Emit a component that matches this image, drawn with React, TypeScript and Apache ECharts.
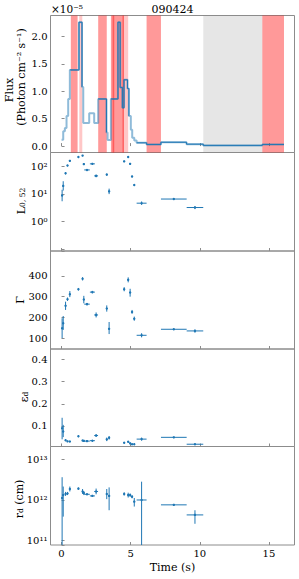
import React, { useEffect, useRef } from 'react';
import * as echarts from 'echarts';

const FONT = '"DejaVu Serif", "Liberation Serif", serif';
const BLUE = '#1f77b4';
const FRAME = '#8c8c8c';

// ---- light curve (flux in units of 1e-5 photon cm^-2 s^-1), step bins ----
const lcEdges = [0.00, 0.12, 0.24, 0.36, 0.48, 0.60, 1.26, 1.48, 1.57, 2.00, 2.36, 2.65, 3.25, 3.33, 3.57, 4.08, 4.24, 4.40, 4.52, 4.77, 4.87, 5.01, 5.11, 5.26, 5.43, 6.15, 7.19, 9.04, 10.25, 14.52, 16.09];
const lcFlux = [0.115, 0.27, 0.33, 0.55, 0.86, 1.39, 2.26, 1.08, 0.42, 0.60, 0.42, 0.86, 0.25, 0.11, 0.86, 2.26, 1.07, 0.70, 1.21, 1.05, 0.55, 0.30, 0.15, 0.10, 0.06, 0.03, 0.07, 0.035, 0.013, 0.03];
const lcDark = [0, 0, 0, 0, 0, 1, 1, 0, 0, 0, 0, 1, 0, 0, 1, 1, 1, 1, 1, 1, 0, 0, 0, 0, 1, 1, 1, 1, 1, 1];

// shaded intervals (s)
const redBands = [[0.67, 1.16], [2.65, 3.27], [3.57, 4.51], [3.69, 3.81], [4.41, 4.51], [6.15, 7.19], [14.52, 16.09]];
const paleBands = [[1.28, 1.50], [4.51, 4.82]];
const grayBands = [[10.25, 14.52]];

// ---- tick values ----
const xTicks = [0, 5, 10, 15];
const fluxTicks = [0, 0.5, 1, 1.5, 2];
const gammaTicks = [100, 200, 300, 400];
const epsTicks = [0.1, 0.2, 0.3, 0.4];

// ---- time-resolved points ----
const tPt = [0.04, 0.12, 0.29, 0.43, 0.60, 1.22, 1.52, 1.61, 1.84, 2.23, 2.50, 3.27, 3.44, 4.53, 4.82, 4.96, 5.10, 5.26, 5.79, 8.12, 9.65];
const tErr = [0.03, 0.03, 0.05, 0.05, 0.05, 0.05, 0.04, 0.04, 0.20, 0.18, 0.14, 0.05, 0.05, 0.04, 0.04, 0.04, 0.04, 0.05, 0.36, 0.93, 0.60];

const lVal = [8.7, 19.5, 56, 107, 158, 219, 245, 120, 74, 123, 45, 50, 12.3, 151, 219, 123, 43, 21, 4.6, 6.5, 3.2];
const lLo = [5.4, 13.2, 51, 101, 150, 210, 236, 113, 71, 119, 40, 46, 9.8, 144, 208, 115, 40, 19.5, 4.0, 6.2, 2.8];
const lHi = [14.1, 28.8, 61, 113, 166, 228, 255, 128, 77, 127, 50, 55, 15.5, 158, 230, 131, 46, 22.5, 5.3, 6.8, 3.6];

const gVal = [148, 172, 256, 288, 312, 336, 386, 286, 264, 322, 212, 243, 145, 336, 381, 320, 226, 194, 114, 143, 135];
const gLo = [100, 140, 236, 280, 298, 330, 378, 268, 258, 316, 200, 228, 120, 326, 369, 300, 218, 184, 104, 140, 127];
const gHi = [196, 207, 276, 296, 327, 342, 394, 304, 270, 328, 224, 258, 178, 346, 393, 338, 236, 204, 124, 146, 143];

const eVal = [0.090, 0.075, 0.036, 0.031, 0.030, 0.054, 0.035, 0.033, 0.032, 0.034, 0.057, 0.040, 0.047, 0.025, 0.029, 0.022, 0.018, 0.018, 0.041, 0.049, 0.018];
const eLo = [0.040, 0.050, 0.033, 0.029, 0.028, 0.050, 0.033, 0.031, 0.030, 0.032, 0.051, 0.032, 0.039, 0.022, 0.026, 0.019, 0.015, 0.015, 0.034, 0.047, 0.015];
const eHi = [0.137, 0.105, 0.039, 0.033, 0.032, 0.058, 0.037, 0.035, 0.034, 0.036, 0.063, 0.048, 0.055, 0.028, 0.032, 0.025, 0.021, 0.021, 0.048, 0.051, 0.021];

const rVal = [1.12e12, 1.32e12, 1.41e12, 1.45e12, 1.86e12, 1.9e12, 1.62e12, 1.48e12, 1.38e12, 1.26e12, 1.62e12, 1.41e12, 1.26e12, 1.41e12, 1.32e12, 1.32e12, 1.2e12, 9.1e11, 1.0e12, 7.6e11, 4.3e11];
const rLo = [1e10, 3.9e11, 1.26e12, 1.32e12, 1.62e12, 1.78e12, 1.41e12, 1.32e12, 1.32e12, 1.2e12, 1.38e12, 1.05e12, 5.6e11, 1.29e12, 1.15e12, 1.2e12, 1.1e12, 6.9e11, 1e10, 7.2e11, 2.6e11];
const rHi = [3.63e12, 2.14e12, 1.58e12, 1.58e12, 2.14e12, 2.04e12, 1.86e12, 1.66e12, 1.45e12, 1.32e12, 1.91e12, 1.86e12, 2.04e12, 1.55e12, 1.51e12, 1.45e12, 1.32e12, 1.12e12, 2.82e12, 7.9e11, 5.6e11];

const SUP: Record<string, string> = { '0': '⁰', '1': '¹', '2': '²', '3': '³', '4': '⁴', '5': '⁵', '6': '⁶', '7': '⁷', '8': '⁸', '9': '⁹', '-': '⁻' };
const sup = (n: number) => String(n).split('').map((c) => SUP[c]).join('');

const GRID_TOPS = [15.5, 152.5, 251, 349, 446.5];
const GRID_H = [137, 98.5, 98, 97.5, 98.5];
const GL = 50.5;
const GR = 4.5;

function near(list: number[], v: number) {
  return list.some((t) => Math.abs(t - v) < 1e-9);
}

function logLabel(v: number) {
  const e = Math.log10(v);
  const r = Math.round(e);
  if (Math.abs(e - r) > 1e-6 || r < 0) return '';
  return '10' + sup(r);
}

const tickStyle = { show: true, inside: true, length: 3, lineStyle: { color: FRAME, width: 1 } };
const labelBase = { fontFamily: FONT, fontSize: 10, color: '#000' };

function buildOption() {
  const lightData: any[] = lcFlux.map((v, i) => [lcEdges[i], v]);
  lightData.push([lcEdges[lcEdges.length - 1], lcFlux[lcFlux.length - 1]]);

  const darkData: any[] = [];
  for (let i = 0; i < lcFlux.length; i++) {
    if (!lcDark[i]) continue;
    darkData.push([lcEdges[i], lcFlux[i]]);
    if (i === lcFlux.length - 1 || !lcDark[i + 1]) {
      const nextV = i < lcFlux.length - 1 ? lcFlux[i + 1] : lcFlux[i];
      darkData.push([lcEdges[i + 1], nextV]);
      darkData.push([lcEdges[i + 1], '-']);
    }
  }

  const bandSeries = (bands: number[][], fill: string) => ({
    type: 'custom',
    xAxisIndex: 0,
    yAxisIndex: 0,
    silent: true,
    z: 1,
    data: bands.map((b) => [b[0], b[1], 0]),
    encode: { x: [0, 1], y: 2 },
    renderItem: (params: any, api: any) => {
      const cs = params.coordSys;
      const a = api.coord([api.value(0), 0]);
      const b = api.coord([api.value(1), 0]);
      return {
        type: 'rect',
        shape: { x: a[0], y: cs.y, width: b[0] - a[0], height: cs.height },
        style: { fill },
      };
    },
  });

  const errSeries = (gi: number, vals: number[], lo: number[], hi: number[]) => ({
    type: 'custom',
    xAxisIndex: gi,
    yAxisIndex: gi,
    z: 5,
    clip: true,
    silent: true,
    data: tPt.map((t, i) => [t, tErr[i], vals[i], lo[i], hi[i]]),
    encode: { x: 0, y: 2 },
    renderItem: (params: any, api: any) => {
      const t = api.value(0), te = api.value(1), y = api.value(2), l = api.value(3), h = api.value(4);
      const c = api.coord([t, y]);
      const p1 = api.coord([t - te, y]);
      const p2 = api.coord([t + te, y]);
      const q1 = api.coord([t, h]);
      const q2 = api.coord([t, l]);
      const ls = { stroke: BLUE, lineWidth: 1 };
      return {
        type: 'group',
        children: [
          { type: 'line', shape: { x1: p1[0], y1: c[1], x2: p2[0], y2: c[1] }, style: ls },
          { type: 'line', shape: { x1: c[0], y1: q1[1], x2: c[0], y2: q2[1] }, style: ls },
          { type: 'circle', shape: { cx: c[0], cy: c[1], r: 1.2 }, style: { fill: BLUE } },
        ],
      };
    },
  });

  const grids = GRID_TOPS.map((t, i) => ({
    left: GL,
    right: GR,
    top: t,
    height: GRID_H[i],
    show: true,
    borderColor: FRAME,
    borderWidth: 1,
    backgroundColor: 'transparent',
    containLabel: false,
  }));

  const xAxes = GRID_TOPS.map((_, i) => ({
    type: 'value',
    gridIndex: i,
    min: -0.8,
    max: 16.85,
    minInterval: 5,
    maxInterval: 5,
    splitNumber: 3,
    axisLine: { show: false },
    splitLine: { show: false },
    axisTick: { ...tickStyle, customValues: xTicks },
    axisLabel: {
      ...labelBase,
      show: i === 4,
      margin: 3,
      customValues: xTicks,
      formatter: (v: number) => (near(xTicks, v) ? String(v) : ''),
    },
  }));

  const linY = (gi: number, min: number, max: number, ticks: number[], fmt: (v: number) => string) => ({
    type: 'value',
    gridIndex: gi,
    min,
    max,
    axisLine: { show: false },
    splitLine: { show: false },
    axisTick: { ...tickStyle, customValues: ticks },
    axisLabel: { ...labelBase, margin: 3, customValues: ticks, formatter: (v: number) => (near(ticks, v) ? fmt(v) : '') },
  });
  const logY = (gi: number, min: number, max: number) => ({
    type: 'log',
    logBase: 10,
    gridIndex: gi,
    min,
    max,
    axisLine: { show: false },
    splitLine: { show: false },
    minorTick: { show: false },
    axisTick: { ...tickStyle },
    axisLabel: { ...labelBase, margin: 3, formatter: logLabel },
  });

  const yAxes = [
    linY(0, -0.117, 2.383, fluxTicks, (v) => v.toFixed(1)),
    logY(1, 0.0845, 317.7),
    linY(2, 48, 520, gammaTicks, (v) => String(v)),
    linY(3, 0.0078, 0.4463, epsTicks, (v) => v.toFixed(1)),
    logY(4, 7.83e10, 2.065e13),
  ];

  const txt = (x: number, y: number, text: string, size: number, rot = 0, rich?: any, align = 'center') => ({
    type: 'text',
    x,
    y,
    rotation: rot,
    silent: true,
    z: 10,
    style: {
      text,
      fill: '#000',
      fontFamily: FONT,
      fontSize: size,
      align,
      verticalAlign: 'middle',
      rich,
    },
  });
  const subRich = {
    m: { fontFamily: FONT, fontSize: 11, lineHeight: 13, verticalAlign: 'bottom', fill: '#000' },
    s: { fontFamily: FONT, fontSize: 7.5, lineHeight: 4, verticalAlign: 'bottom', fill: '#000' },
  };
  const R = Math.PI / 2;

  const graphic = [
    txt(172.5, 9, '090424', 11),
    txt(51, 8.5, '×10⁻⁵', 10.5, 0, undefined, 'left'),
    txt(9, 90, 'Flux', 11, R),
    txt(21, 77, '(Photon cm⁻² s⁻¹)', 11, R),
    txt(20, 201, '{m|L}{s|0, 52}', 11, R, subRich),
    txt(20.5, 300, 'Γ', 11, R),
    txt(23, 397, '{m|ε}{s|d}', 11, R, subRich),
    txt(18, 499, '{m|r}{s|d}{m| (cm)}', 11, R, subRich),
    txt(172.5, 567.5, 'Time (s)', 11),
  ];

  return {
    animation: false,
    backgroundColor: '#ffffff',
    grid: grids,
    xAxis: xAxes,
    yAxis: yAxes,
    graphic,
    series: [
      bandSeries(grayBands, 'rgba(128,128,128,0.2)'),
      bandSeries(paleBands, 'rgba(255,0,0,0.22)'),
      bandSeries(redBands, 'rgba(255,0,0,0.4)'),
      {
        type: 'line',
        xAxisIndex: 0,
        yAxisIndex: 0,
        data: lightData,
        step: 'end',
        symbol: 'none',
        showSymbol: false,
        silent: true,
        z: 3,
        lineStyle: { color: 'rgba(31,119,180,0.5)', width: 2 },
      },
      {
        type: 'line',
        xAxisIndex: 0,
        yAxisIndex: 0,
        data: darkData,
        step: 'end',
        symbol: 'none',
        showSymbol: false,
        connectNulls: false,
        silent: true,
        z: 4,
        lineStyle: { color: BLUE, width: 1 },
      },
      errSeries(1, lVal, lLo, lHi),
      errSeries(2, gVal, gLo, gHi),
      errSeries(3, eVal, eLo, eHi),
      errSeries(4, rVal, rLo, rHi),
    ],
  };
}

export default function App() {
  const ref = useRef<HTMLDivElement>(null);
  useEffect(() => {
    if (!ref.current) return;
    const chart = echarts.init(ref.current, undefined, { renderer: 'svg' });
    chart.setOption(buildOption() as any);
    return () => chart.dispose();
  }, []);
  return (
    <div
      ref={ref}
      style={{ position: 'absolute', left: 0, top: 0, width: 299, height: 579, background: '#fff' }}
    />
  );
}
